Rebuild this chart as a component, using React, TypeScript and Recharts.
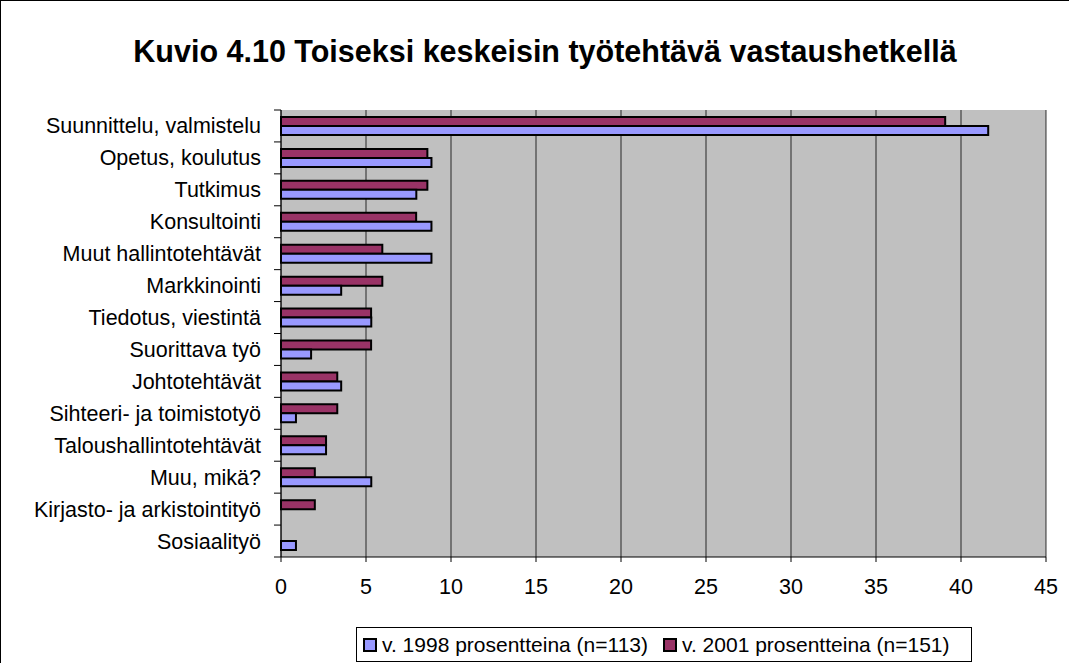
import { Bar, BarChart, CartesianGrid, XAxis, YAxis } from "recharts";

const CATEGORIES = [
  "Suunnittelu, valmistelu",
  "Opetus, koulutus",
  "Tutkimus",
  "Konsultointi",
  "Muut hallintotehtävät",
  "Markkinointi",
  "Tiedotus, viestintä",
  "Suorittava työ",
  "Johtotehtävät",
  "Sihteeri- ja toimistotyö",
  "Taloushallintotehtävät",
  "Muu, mikä?",
  "Kirjasto- ja arkistointityö",
  "Sosiaalityö",
];

const Y1998 = [41.6, 8.85, 7.96, 8.85, 8.85, 3.54, 5.31, 1.77, 3.54, 0.88, 2.65, 5.31, 0, 0.88];
const Y2001 = [39.07, 8.61, 8.61, 7.95, 5.96, 5.96, 5.3, 5.3, 3.31, 3.31, 2.65, 1.99, 1.99, 0];

const X_TICKS = [0, 5, 10, 15, 20, 25, 30, 35, 40, 45];

const TITLE = "Kuvio 4.10 Toiseksi keskeisin työtehtävä vastaushetkellä";
const LABEL_1998 = "v. 1998 prosentteina (n=113)";
const LABEL_2001 = "v. 2001 prosentteina (n=151)";

const C1998 = "#9999ff";
const C2001 = "#993366";
const FONT = "'Liberation Sans', Arial, sans-serif";

const PLOT_TOP = 110;
const PLOT_H = 447;
const BAND = PLOT_H / CATEGORIES.length;

const data = CATEGORIES.map((name, i) => ({
  name,
  y1998: Y1998[i],
  y2001: Y2001[i],
}));

// category label plus Excel-style tick marks at the band boundaries
function CategoryTick(props: any) {
  const { x, y, payload, index } = props;
  const axisX = x + 20;
  const last = index === CATEGORIES.length - 1;
  return (
    <g>
      <line x1={axisX - 7} x2={axisX} y1={y - BAND / 2} y2={y - BAND / 2} stroke="#000" />
      {last && <line x1={axisX - 7} x2={axisX} y1={y + BAND / 2} y2={y + BAND / 2} stroke="#000" />}
      <text x={x} y={y} dy="0.35em" textAnchor="end" fill="#000" fontSize={21.5} fontFamily={FONT}>
        {payload.value}
      </text>
    </g>
  );
}

function LegendSwatch({ color }: { color: string }) {
  return (
    <span
      style={{
        display: "inline-block",
        width: 10,
        height: 10,
        background: color,
        border: "2px solid #000",
        marginRight: 5,
        flex: "none",
      }}
    />
  );
}

export default function App() {
  return (
    <div
      style={{
        position: "absolute",
        left: 0,
        top: 0,
        width: 1069,
        height: 663,
        overflow: "hidden",
        background: "#fff",
        fontFamily: FONT,
      }}
    >
      <div
        style={{
          position: "absolute",
          left: 0,
          top: 0,
          width: 1100,
          height: 700,
          border: "1px solid #000",
        }}
      />
      <div
        style={{
          position: "absolute",
          left: 45,
          top: 34,
          width: 1000,
          textAlign: "center",
          fontSize: 30.5,
          lineHeight: 1.117,
          fontWeight: "bold",
          color: "#000",
          whiteSpace: "nowrap",
        }}
      >
        {TITLE}
      </div>
      <BarChart
        width={1069}
        height={663}
        data={data}
        layout="vertical"
        margin={{ top: PLOT_TOP, right: 23, bottom: 66, left: 0 }}
        barGap={0}
        barSize={9}
        style={{ position: "absolute", left: 0, top: 0 }}
      >
        <CartesianGrid horizontal={false} stroke="#000" fill="#c0c0c0" strokeOpacity={0.8} />
        <XAxis
          type="number"
          domain={[0, 45]}
          ticks={X_TICKS}
          interval={0}
          height={40}
          tickSize={5}
          tickMargin={17}
          axisLine={{ stroke: "#000" }}
          tickLine={{ stroke: "#000" }}
          tick={{ fill: "#000", fontSize: 21.5, fontFamily: FONT }}
        />
        <XAxis
          xAxisId="top"
          orientation="top"
          type="number"
          domain={[0, 45]}
          height={0}
          tick={false}
          tickLine={false}
          axisLine={{ stroke: "#808080", strokeWidth: 2.5 }}
        />
        <YAxis
          type="category"
          dataKey="name"
          width={281}
          tickLine={false}
          tickMargin={14}
          interval={0}
          axisLine={{ stroke: "#000" }}
          tick={<CategoryTick />}
        />
        <YAxis
          yAxisId="right"
          orientation="right"
          type="category"
          dataKey="name"
          width={0}
          tick={false}
          tickLine={false}
          axisLine={{ stroke: "#808080", strokeWidth: 2.5 }}
        />
        <Bar dataKey="y2001" fill={C2001} stroke="#000" strokeWidth={2} isAnimationActive={false} />
        <Bar dataKey="y1998" fill={C1998} stroke="#000" strokeWidth={2} isAnimationActive={false} />
      </BarChart>
      <div
        style={{
          position: "absolute",
          left: 356,
          top: 627,
          width: 616,
          height: 35,
          border: "1px solid #000",
          boxSizing: "border-box",
          fontSize: 21,
          whiteSpace: "nowrap",
          color: "#000",
          paddingLeft: 6,
          display: "flex",
          alignItems: "center",
        }}
      >
        <LegendSwatch color={C1998} />
        <span>{LABEL_1998}</span>
        <span style={{ width: 15, flex: "none" }} />
        <LegendSwatch color={C2001} />
        <span>{LABEL_2001}</span>
      </div>
    </div>
  );
}
